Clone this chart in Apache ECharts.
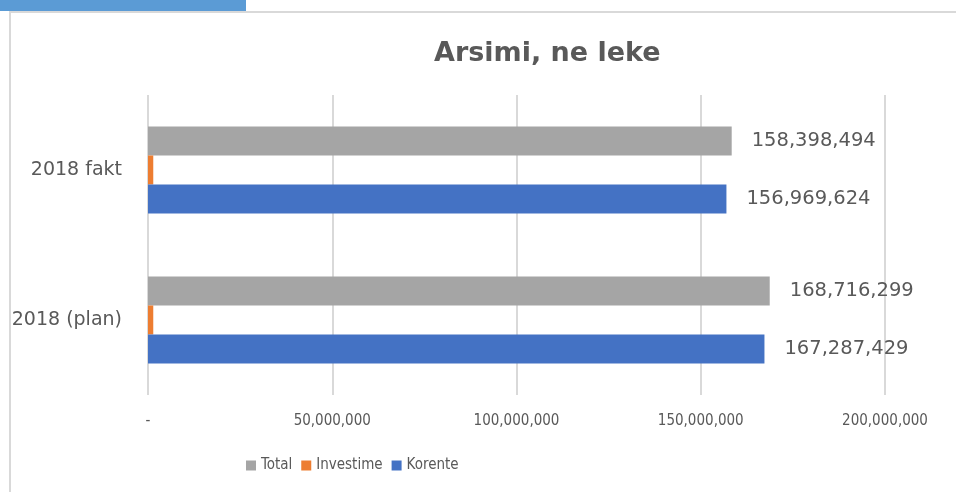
<!DOCTYPE html>
<html>
<head>
<meta charset="utf-8">
<script src="https://cdn.jsdelivr.net/npm/echarts@6/dist/echarts.min.js"></script>
<style>
  html, body { margin: 0; padding: 0; background: #fff; }
  #main { width: 956px; height: 492px; }
</style>
</head>
<body>
<div id="main"></div>
<script>
// kategorite (nga poshte lart)
var categories = ['2018 (plan)', '2018 fakt'];
// vlerat
var totalData = [168716299, 158398494];
var investimeData = [1428870, 1428870];
var korenteData = [167287429, 156969624];
var xTicks = [0, 50000000, 100000000, 150000000, 200000000];

var chart = echarts.init(document.getElementById('main'));

function fmt(v) {
    if (v === 0) return '-';
    return v.toString().replace(/\B(?=(\d{3})+(?!\d))/g, ',');
}

var narrow = '"Liberation Sans Narrow", "DejaVu Sans Condensed", sans-serif';

var option = {
    backgroundColor: '#fff',
    animation: false,
    title: {
        text: 'Arsimi, ne leke',
        left: 429,
        top: 35,
        textStyle: {
            fontFamily: 'DejaVu Sans',
            fontWeight: 'bold',
            fontSize: 27,
            color: '#595959'
        }
    },
    legend: {
        left: 241,
        top: 453,
        itemWidth: 10,
        itemHeight: 10,
        itemGap: 9,
        icon: 'rect',
        textStyle: {
            fontFamily: narrow,
            fontSize: 15,
            color: '#595959'
        },
        data: ['Total', 'Investime', 'Korente']
    },
    grid: {
        left: 148,
        right: 71,
        top: 95,
        bottom: 97,
        containLabel: false
    },
    xAxis: {
        type: 'value',
        min: 0,
        max: xTicks[xTicks.length - 1],
        interval: xTicks[1] - xTicks[0],
        axisLine: { show: false },
        axisTick: { show: false },
        splitLine: { show: true, lineStyle: { color: '#d9d9d9', width: 2 } },
        axisLabel: {
            margin: 19,
            fontFamily: narrow,
            fontSize: 15,
            color: '#595959',
            formatter: function (v) { return fmt(v); }
        }
    },
    yAxis: {
        type: 'category',
        data: categories,
        axisLine: { show: false },
        axisTick: { show: false },
        axisLabel: {
            margin: 26,
            fontFamily: 'DejaVu Sans',
            fontSize: 19,
            color: '#595959'
        }
    },
    series: [{
        name: 'Total',
        type: 'bar',
        barWidth: 29,
        barGap: 0,
        itemStyle: { color: '#a5a5a5' },
        label: {
            show: true,
            position: 'right',
            distance: 20,
            fontFamily: 'DejaVu Sans',
            fontSize: 19.5,
            color: '#595959',
            formatter: function (p) { return fmt(p.value); }
        },
        data: totalData
    }, {
        name: 'Investime',
        type: 'bar',
        barWidth: 29,
        barGap: 0,
        itemStyle: { color: '#ed7d31' },
        data: investimeData
    }, {
        name: 'Korente',
        type: 'bar',
        barWidth: 29,
        barGap: 0,
        itemStyle: { color: '#4472c4' },
        label: {
            show: true,
            position: 'right',
            distance: 20,
            fontFamily: 'DejaVu Sans',
            fontSize: 19.5,
            color: '#595959',
            formatter: function (p) { return fmt(p.value); }
        },
        data: korenteData
    }],
    graphic: [{
        type: 'rect',
        shape: { x: 0, y: 0, width: 246, height: 11 },
        style: { fill: '#5b9bd5' },
        z: 10
    }, {
        type: 'polyline',
        shape: { points: [[10, 492], [10, 12], [956, 12]] },
        style: { stroke: '#d9d9d9', lineWidth: 2, fill: null },
        z: 10
    }]
};

chart.setOption(option);
window.addEventListener('resize', function () {
    chart.resize();
});
</script>
</body>
</html>
